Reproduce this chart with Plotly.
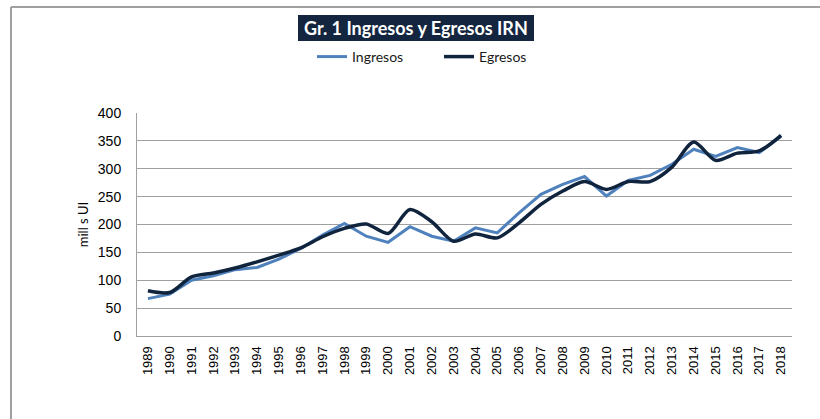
import plotly.graph_objects as go

years = [str(y) for y in range(1989, 2019)]
ingresos = [67, 75, 100, 108, 119, 123, 138, 157, 181, 202, 179, 168, 196, 179, 170,
            194, 185, 221, 254, 272, 286, 251, 279, 288, 308, 335, 322, 338, 329, 358]
egresos = [81, 78, 106, 113, 122, 133, 145, 158, 178, 193, 201, 184, 227, 205, 170,
           183, 176, 203, 236, 260, 277, 263, 277, 277, 303, 348, 315, 328, 332, 360]
y_ticks = [0, 50, 100, 150, 200, 250, 300, 350, 400]

W, H = 820, 419
L, R, T, B = 137, 28, 113, 83
pw, ph = W - L - R, H - T - B


def px(x):
    return (x - L) / pw


def py(y):
    return (H - B - y) / ph


fig = go.Figure()
fig.add_trace(go.Scatter(x=years, y=ingresos, name="Ingresos", mode="lines",
                         line=dict(color="#4F81BD", width=3)))
fig.add_trace(go.Scatter(x=years, y=egresos, name="Egresos", mode="lines",
                         line=dict(color="#10243E", width=3.5, shape="spline", smoothing=0.8)))

fig.update_layout(
    width=W, height=H,
    margin=dict(l=L, r=R, t=T, b=B),
    paper_bgcolor="white", plot_bgcolor="white",
    showlegend=True,
    legend=dict(orientation="h", x=px(312), y=py(57), xanchor="left", yanchor="middle",
                font=dict(family="Lato", size=14, color="#1a1a1a"),
                entrywidth=82, entrywidthmode="pixels", itemwidth=30,
                bgcolor="rgba(0,0,0,0)"),
    xaxis=dict(type="category", tickangle=-90, showgrid=False,
               showline=True, linecolor="#A0A0A0", linewidth=1,
               tickfont=dict(family="Liberation Sans", size=13, color="#000"),
               ticklabelstandoff=4, range=[-0.5, 29.5]),
    yaxis=dict(range=[0, 400], tickvals=y_ticks, showgrid=True, gridcolor="#A0A0A0",
               gridwidth=1, showline=True, linecolor="#A0A0A0", linewidth=1,
               zeroline=False,
               tickfont=dict(family="Liberation Sans", size=14, color="#000"),
               ticklabelstandoff=12,
               title=dict(text="mill s UI", font=dict(family="Lato", size=13, color="#000"),
                          standoff=6)),
    shapes=[
        dict(type="line", xref="paper", yref="paper",
             x0=px(11), x1=px(825), y0=py(7), y1=py(7),
             line=dict(color="#A0A0A0", width=2), layer="above"),
        dict(type="line", xref="paper", yref="paper",
             x0=px(11), x1=px(11), y0=py(7), y1=py(425),
             line=dict(color="#A0A0A0", width=2), layer="above"),
        dict(type="rect", xref="paper", yref="paper",
             x0=px(298), x1=px(534), y0=py(41), y1=py(15),
             line=dict(width=0), fillcolor="#13253F"),
    ],
    annotations=[
        dict(text="<b>Gr. 1 Ingresos y Egresos IRN</b>", xref="paper", yref="paper",
             x=px(416), y=py(28.5), xanchor="center", yanchor="middle", showarrow=False,
             font=dict(family="Lato", size=18, color="white")),
    ],
)

fig.write_html("out.html", config={"displayModeBar": False},
               post_script="document.body.style.margin='0';document.body.style.overflow='hidden';")
